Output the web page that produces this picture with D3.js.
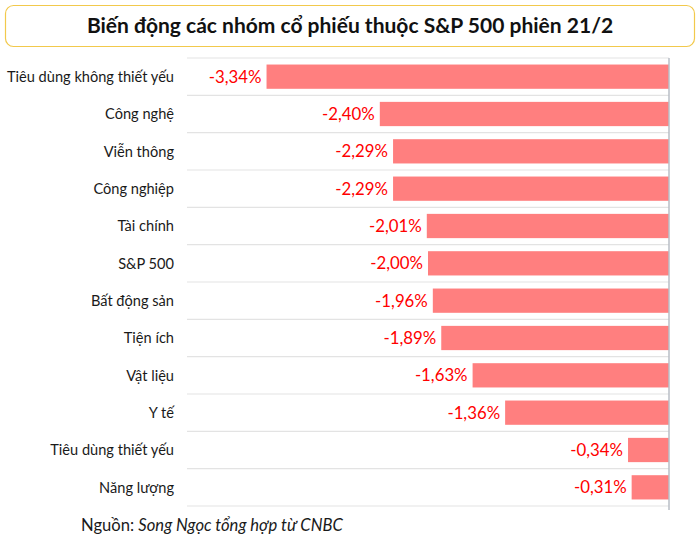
<!DOCTYPE html>
<html><head><meta charset="utf-8">
<script src="https://cdn.jsdelivr.net/npm/d3@7"></script>
<style>body{margin:0;background:#fff;}svg{display:block;}</style>
</head><body>
<svg id="c" width="700" height="546"></svg>
<script>
const categories = ["Tiêu dùng không thiết yếu","Công nghệ","Viễn thông","Công nghiệp","Tài chính","S&P 500","Bất động sản","Tiện ích","Vật liệu","Y tế","Tiêu dùng thiết yếu","Năng lượng"];
const values = [-3.34,-2.40,-2.29,-2.29,-2.01,-2.00,-1.96,-1.89,-1.63,-1.36,-0.34,-0.31];
const valueLabels = ["-3,34%","-2,40%","-2,29%","-2,29%","-2,01%","-2,00%","-1,96%","-1,89%","-1,63%","-1,36%","-0,34%","-0,31%"];
const title = "Biến động các nhóm cổ phiếu thuộc S&P 500 phiên 21/2";

const svg = d3.select("#c");
const font = "Lato, 'Open Sans', sans-serif";

// title box
svg.append("rect").attr("x",5.5).attr("y",5.5).attr("width",689).attr("height",41)
  .attr("rx",8).attr("fill","#fff").attr("stroke","#f2c94c").attr("stroke-width",1.2);
svg.append("text").attr("x",350).attr("y",33).attr("text-anchor","middle")
  .attr("font-family",font).attr("font-weight","bold").attr("font-size",21)
  .attr("fill","#111").text(title);

const x = d3.scaleLinear().domain([-4,0]).range([187,669]);
const y = d3.scaleBand().domain(categories).range([58,506]).paddingInner(0.35).paddingOuter(0.175);
const step = y.step();

// grid lines
const gridYs = d3.range(categories.length+1).map(i=>58+i*step);
svg.append("g").selectAll("line").data(gridYs).join("line")
  .attr("x1",187).attr("x2",669).attr("y1",d=>d).attr("y2",d=>d)
  .attr("stroke","#e3e3e3").attr("stroke-width",1.2);

// bars
svg.append("g").selectAll("rect").data(values).join("rect")
  .attr("x",d=>x(d)).attr("y",(d,i)=>y(categories[i]))
  .attr("width",d=>x(0)-x(d)).attr("height",y.bandwidth())
  .attr("fill","#ff7f7f");

// value labels
svg.append("g").selectAll("text").data(values).join("text")
  .attr("x",d=>x(d)-5).attr("y",(d,i)=>y(categories[i])+y.bandwidth()/2)
  .attr("dy","0.36em").attr("text-anchor","end")
  .attr("font-family",font).attr("font-size",16.8).attr("fill","#ff0000")
  .text((d,i)=>valueLabels[i]);

// category axis labels
svg.append("g").selectAll("text").data(categories).join("text")
  .attr("x",174).attr("y",d=>y(d)+y.bandwidth()/2).attr("dy","0.36em")
  .attr("text-anchor","end").attr("font-family",font).attr("font-size",14.6)
  .attr("fill","#1a1a1a").text(d=>d);

// zero axis line
svg.append("line").attr("x1",x(0)).attr("x2",x(0)).attr("y1",58).attr("y2",510)
  .attr("stroke","#b8bec6").attr("stroke-width",1.5);

// source
const src = svg.append("text").attr("x",81).attr("y",531)
  .attr("font-family",font).attr("font-size",16.6).attr("fill","#1a1a1a");
src.append("tspan").text("Nguồn: ");
src.append("tspan").attr("font-style","italic").text("Song Ngọc tổng hợp từ CNBC");
</script>
</body></html>
